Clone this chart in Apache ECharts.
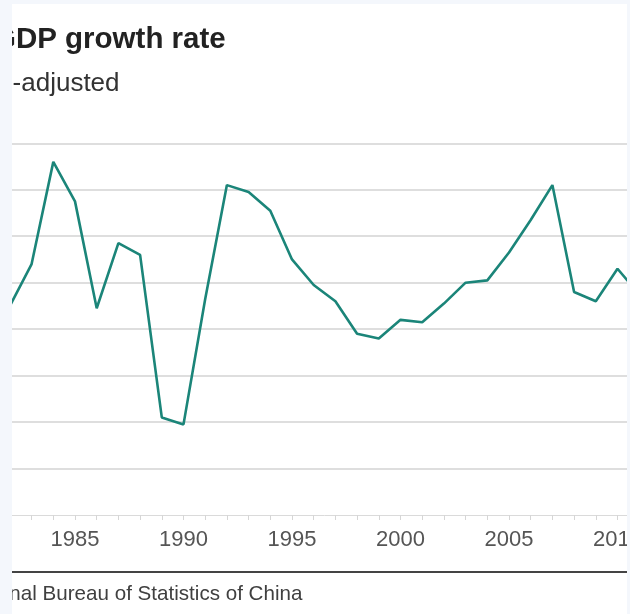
<!DOCTYPE html>
<html>
<head>
<meta charset="utf-8">
<script src="https://cdn.jsdelivr.net/npm/echarts@6/dist/echarts.min.js"></script>
<style>
  html, body { margin: 0; padding: 0; width: 630px; height: 614px; overflow: hidden; background: #f4f7fc; }
  #wrap { position: absolute; left: 12px; top: 4px; width: 615px; height: 610px; overflow: hidden; background: #ffffff; }
  #chart { position: absolute; left: -162px; top: -4px; width: 850px; height: 614px; }
</style>
</head>
<body>
<div id="wrap"><div id="chart"></div></div>
<script>
// ---- data ----
const titleText = "China's GDP growth rate";
const subtitleText = "Inflation-adjusted";
const sourceText = "Source: National Bureau of Statistics of China";
const years = [1982, 1983, 1984, 1985, 1986, 1987, 1988, 1989, 1990, 1991,
               1992, 1993, 1994, 1995, 1996, 1997, 1998, 1999, 2000, 2001,
               2002, 2003, 2004, 2005, 2006, 2007, 2008, 2009, 2010, 2011];
const growth = [9.0, 10.8, 15.2, 13.5, 8.9, 11.7, 11.2, 4.2, 3.9, 9.3,
                14.2, 13.9, 13.1, 11.0, 9.9, 9.2, 7.8, 7.6, 8.4, 8.3,
                9.1, 10.0, 10.1, 11.3, 12.7, 14.2, 9.6, 9.2, 10.6, 9.5];
const yTicks = [0, 2, 4, 6, 8, 10, 12, 14, 16];

const chart = echarts.init(document.getElementById('chart'), null,
  { renderer: 'canvas', width: 850, height: 614 });
const OFF = 150; // chart x = page x + OFF

chart.setOption({
  animation: false,
  backgroundColor: 'transparent',
  grid: { left: 116.5, right: 17.4, top: 143.3, bottom: 99,
          containLabel: false, outerBoundsMode: 'none' },
  xAxis: {
    type: 'value',
    min: 1980, max: 2013, interval: 5,
    axisLine: { show: true, lineStyle: { color: '#dadada', width: 1 } },
    axisTick: { show: true, length: 5, lineStyle: { color: '#d6d6d6' } },
    minorTick: { show: true, splitNumber: 5, length: 5, lineStyle: { color: '#d6d6d6' } },
    splitLine: { show: false },
    axisLabel: { show: true, margin: 14, color: '#555555', fontSize: 22,
                 fontFamily: 'Liberation Sans, Arial, sans-serif',
                 formatter: v => String(v) }
  },
  yAxis: {
    type: 'value',
    min: yTicks[0], max: yTicks[yTicks.length - 1], interval: 2,
    axisLine: { show: false },
    axisTick: { show: false },
    axisLabel: { show: false },
    splitLine: { show: true, showMinLine: false, lineStyle: { color: '#dedede', width: 2 } }
  },
  series: [{
    type: 'line',
    data: years.map((y, i) => [y, growth[i]]),
    showSymbol: false,
    symbol: 'none',
    lineStyle: { color: '#1b8579', width: 2.6 },
    z: 5
  }],
  graphic: [
    { type: 'text', left: -120.6 + OFF, top: 25,
      style: { text: titleText, fill: '#222222', font: 'bold 29.5px "Liberation Sans", Arial, sans-serif' } },
    { type: 'text', left: -78.5 + OFF, top: 71,
      style: { text: subtitleText, fill: '#333333', font: '26px "Liberation Sans", Arial, sans-serif' } },
    { type: 'rect', shape: { x: 12 + OFF, y: 571, width: 615, height: 2 },
      style: { fill: '#444444' } },
    { type: 'text', left: -115.4 + OFF, top: 583.5,
      style: { text: sourceText, fill: '#404040', font: '20.6px "Liberation Sans", Arial, sans-serif' } }
  ]
});
</script>
</body>
</html>
